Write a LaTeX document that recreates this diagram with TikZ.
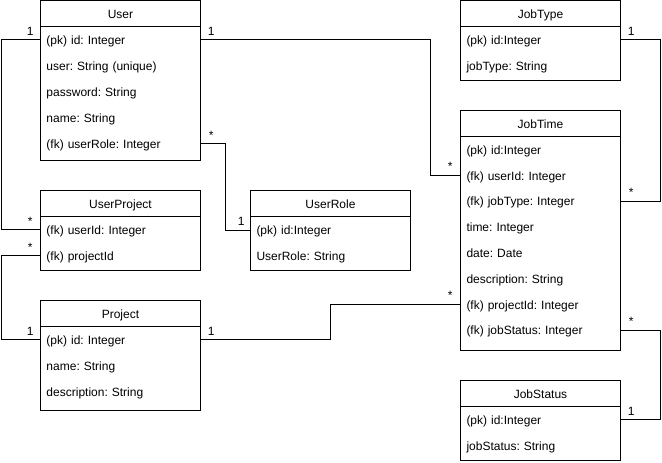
\documentclass[tikz,border=0pt]{standalone}
\usepackage{fontspec}
\setmainfont{Liberation Sans}
\usetikzlibrary{calc}
\frenchspacing
\tikzset{
  ent/.style={draw=black, line width=0.75pt, fill=white, inner sep=0pt, minimum width=120pt},
  sep/.style={draw=black, line width=0.75pt},
  row/.style={inner xsep=4.5pt, inner ysep=0pt, text width=111pt, align=left,
              text height=8.1pt, text depth=0.9pt, font=\fontsize{9pt}{11pt}\selectfont\frenchspacing},
  ttl/.style={row, align=center},
  conn/.style={draw=black, line width=0.75pt},
  lbl/.style={anchor=base, inner sep=0pt, font=\fontsize{9pt}{11pt}\selectfont},
}
\begin{document}
\begin{tikzpicture}[x=0.75pt, y=-0.75pt]
\path[use as bounding box, fill=white] (0,0) rectangle (662,462);

% ---------- User ----------
\node[ent, minimum height=120pt] (user) at (120.5,80.5) {};
\draw[sep] (40.5,26.5) -- (200.5,26.5);
\node[ttl] (userT) at (120.5,13.5) {User};
\node[row] (u1) at (120.5,39.5) {(pk) id: Integer};
\node[row] (u2) at (120.5,65.5) {user: String (unique)};
\node[row] (u3) at (120.5,91.5) {password: String};
\node[row] (u4) at (120.5,117.5) {name: String};
\node[row] (u5) at (120.5,143.5) {(fk) userRole: Integer};

% ---------- UserProject ----------
\node[ent, minimum height=60pt] (up) at (120.5,230.5) {};
\draw[sep] (40.5,216.5) -- (200.5,216.5);
\node[ttl] (upT) at (120.5,203.5) {UserProject};
\node[row] (up1) at (120.5,229.5) {(fk) userId: Integer};
\node[row] (up2) at (120.5,255.5) {(fk) projectId};

% ---------- UserRole ----------
\node[ent, minimum height=60pt] (ur) at (330.5,230.5) {};
\draw[sep] (250.5,216.5) -- (410.5,216.5);
\node[ttl] (urT) at (330.5,203.5) {UserRole};
\node[row] (ur1) at (330.5,230) {(pk) id:Integer};
\node[row] (ur2) at (330.5,256) {UserRole: String};

% ---------- Project ----------
\node[ent, minimum height=82.5pt] (pr) at (120.5,355.5) {};
\draw[sep] (40.5,326.5) -- (200.5,326.5);
\node[ttl] (prT) at (120.5,313.5) {Project};
\node[row] (p1) at (120.5,339.5) {(pk) id: Integer};
\node[row] (p2) at (120.5,365.5) {name: String};
\node[row] (p3) at (120.5,391.5) {description: String};

% ---------- JobType ----------
\node[ent, minimum height=60pt] (jty) at (540.5,40.5) {};
\draw[sep] (460.5,26.5) -- (620.5,26.5);
\node[ttl] (jtyT) at (540.5,13.5) {JobType};
\node[row] (jty1) at (540.5,39.5) {(pk) id:Integer};
\node[row] (jty2) at (540.5,65.5) {jobType: String};

% ---------- JobTime ----------
\node[ent, minimum height=180pt] (jt) at (540.5,230.5) {};
\draw[sep] (460.5,136.5) -- (620.5,136.5);
\node[ttl] (jtT) at (540.5,123.5) {JobTime};
\node[row] (jt1) at (540.5,149.5) {(pk) id:Integer};
\node[row] (jt2) at (540.5,175.3) {(fk) userId: Integer};
\node[row] (jt3) at (540.5,201.1) {(fk) jobType: Integer};
\node[row] (jt4) at (540.5,226.9) {time: Integer};
\node[row] (jt5) at (540.5,252.7) {date: Date};
\node[row] (jt6) at (540.5,278.5) {description: String};
\node[row] (jt7) at (540.5,304.3) {(fk) projectId: Integer};
\node[row] (jt8) at (540.5,330.1) {(fk) jobStatus: Integer};

% ---------- JobStatus ----------
\node[ent, minimum height=60pt] (js) at (540.5,420.5) {};
\draw[sep] (460.5,406.5) -- (620.5,406.5);
\node[ttl] (jsT) at (540.5,393.5) {JobStatus};
\node[row] (js1) at (540.5,419.5) {(pk) id:Integer};
\node[row] (js2) at (540.5,445.5) {jobStatus: String};

% ---------- routing columns ----------
\coordinate (lx) at (1.5,0);
\coordinate (c2) at (430.5,0);
\coordinate (c3) at (225.5,0);
\coordinate (c5) at (330.5,0);
\coordinate (rx) at (660.5,0);

% ---------- connectors ----------
\draw[conn] (u1.west) -- (u1.west -| lx) |- (up1.west);
\draw[conn] (u1.east) -- (u1.east -| c2) |- (jt2.west);
\draw[conn] (u5.east) -- (u5.east -| c3) |- (ur1.west);
\draw[conn] (up2.west) -- (up2.west -| lx) |- (p1.west);
\draw[conn] (p1.east) -- (p1.east -| c5) |- (jt7.west);
\draw[conn] (jty1.east) -- (jty1.east -| rx) |- (jt3.east);
\draw[conn] (jt8.east) -- (jt8.east -| rx) |- (js1.east);

% ---------- multiplicities ----------
\node[lbl] (m1) at ($(u1.west)+(-10,-4.5)$) {1};
\node[lbl] (m2) at ($(up1.west)+(-10,-4.5)$) {*};
\node[lbl] (m3) at ($(u1.east)+(10.5,-4.5)$) {1};
\node[lbl] (m4) at ($(jt2.west)+(-10,-4.5)$) {*};
\node[lbl] (m5) at ($(u5.east)+(10.5,-4.5)$) {*};
\node[lbl] (m6) at ($(ur1.west)+(-9,-4.5)$) {1};
\node[lbl] (m7) at ($(up2.west)+(-10,-4.5)$) {*};
\node[lbl] (m8) at ($(p1.west)+(-10,-4.5)$) {1};
\node[lbl] (m9) at ($(p1.east)+(10.5,-4.5)$) {1};
\node[lbl] (m10) at ($(jt7.west)+(-10,-4.5)$) {*};
\node[lbl] (m11) at ($(jty1.east)+(10.5,-4.5)$) {1};
\node[lbl] (m12) at ($(jt3.east)+(10.5,-4.5)$) {*};
\node[lbl] (m13) at ($(jt8.east)+(10.5,-4.5)$) {*};
\node[lbl] (m14) at ($(js1.east)+(10.5,-4.5)$) {1};
\end{tikzpicture}
\end{document}
